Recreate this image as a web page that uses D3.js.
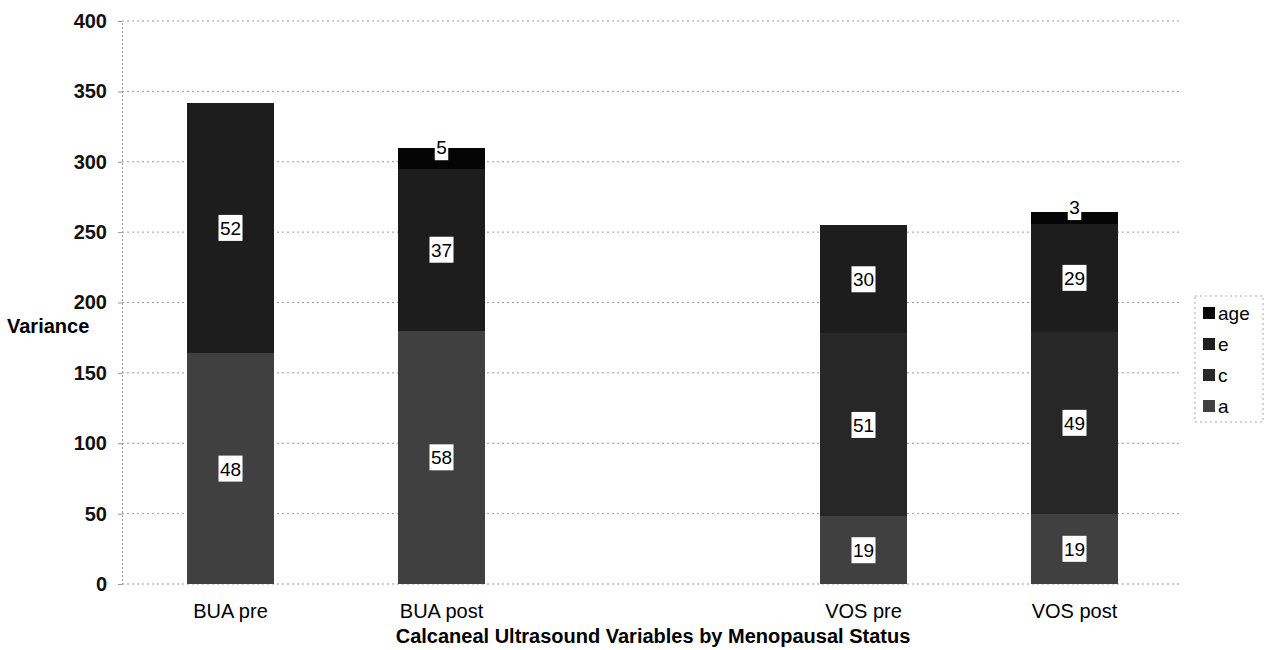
<!DOCTYPE html>
<html>
<head>
<meta charset="utf-8">
<script src="https://d3js.org/d3.v7.min.js"></script>
<style>
  body { margin: 0; background: #fff; }
  text { font-family: Arial, "Liberation Sans", sans-serif; }
</style>
</head>
<body>
<svg id="chart" width="1276" height="650"></svg>
<script>
// categories (the blank one is the empty slot between the two groups)
let categories = ['BUA pre', 'BUA post', '', 'VOS pre', 'VOS post']
let seriesNames = ['a', 'c', 'e', 'age']
// variance per component
let a_values = [164, 180, null, 48, 50]
let c_values = [0, 0, null, 130, 129]
let e_values = [178, 115, null, 77, 77]
let age_values = [0, 15, null, 0, 8]
// percentage labels printed on the segments
let a_labels = ['48', '58', '', '19', '19']
let c_labels = ['', '', '', '51', '49']
let e_labels = ['52', '37', '', '30', '29']
let age_labels = ['', '5', '', '', '3']
let yTicks = [0, 50, 100, 150, 200, 250, 300, 350, 400]

let colors = { a: '#404040', c: '#272727', e: '#1d1d1d', age: '#050505' }

let svg = d3.select('#chart')
let plotLeft = 125, plotRight = 1180, plotTop = 21, plotBottom = 584

let x = d3.scaleBand().domain(d3.range(categories.length)).range([plotLeft, plotRight]).paddingInner(0.588).paddingOuter(0.294)
let y = d3.scaleLinear().domain([0, 400]).range([plotBottom, plotTop])

// gridlines
svg.append('g').selectAll('line')
    .data(yTicks.filter(d => d > 0))
    .enter().append('line')
    .attr('x1', plotLeft - 3).attr('x2', plotRight)
    .attr('y1', d => y(d)).attr('y2', d => y(d))
    .attr('stroke', '#999').attr('stroke-width', 1)
    .attr('stroke-dasharray', '2,3')

// axes
let yAxis = svg.append('g')
    .attr('transform', 'translate(' + (plotLeft - 3) + ',0)')
    .call(d3.axisLeft(y).tickValues(yTicks).tickSize(4).tickPadding(11))
yAxis.select('.domain').attr('stroke', '#999').attr('stroke-dasharray', '2,2')
yAxis.selectAll('.tick line').attr('stroke', '#999')
yAxis.selectAll('.tick text').style('font-size', '20px').style('font-weight', 'bold').attr('fill', '#111')

svg.append('line')
    .attr('x1', plotLeft - 3).attr('x2', plotRight)
    .attr('y1', plotBottom).attr('y2', plotBottom)
    .attr('stroke', '#999').attr('stroke-dasharray', '2,3')

let xAxis = svg.append('g')
    .attr('transform', 'translate(0,' + plotBottom + ')')
    .call(d3.axisBottom(x).tickFormat(i => categories[i]).tickSize(0).tickPadding(20))
xAxis.select('.domain').remove()
xAxis.selectAll('.tick text').style('font-size', '20px').attr('fill', '#000')

// stacked bars
let rows = categories.map((c, i) => ({
    i: i,
    a: a_values[i] || 0, c: c_values[i] || 0, e: e_values[i] || 0, age: age_values[i] || 0
}))
let labels = { a: a_labels, c: c_labels, e: e_labels, age: age_labels }
let stacked = d3.stack().keys(seriesNames)(rows)

stacked.forEach(function(layer) {
    let g = svg.append('g').attr('class', 'series_' + layer.key)
    g.selectAll('rect')
        .data(layer.filter(d => d[1] - d[0] > 0))
        .enter().append('rect')
        .attr('x', d => x(d.data.i))
        .attr('width', x.bandwidth())
        .attr('y', d => y(d[1]))
        .attr('height', d => y(d[0]) - y(d[1]))
        .attr('fill', colors[layer.key])
        .attr('shape-rendering', 'crispEdges')
})

stacked.forEach(function(layer) {
    let g = svg.append('g').attr('class', 'labels_' + layer.key)
    layer.filter(d => labels[layer.key][d.data.i] !== '').forEach(function(d) {
        let txt = labels[layer.key][d.data.i]
        let cx = x(d.data.i) + x.bandwidth() / 2
        let cy = y((d[0] + d[1]) / 2)
        if (d[1] - d[0] < 20) cy -= 11
        let w = txt.length * 10.5 + 3
        g.append('rect')
            .attr('x', cx - w / 2).attr('y', cy - 13)
            .attr('width', w).attr('height', 26)
            .attr('fill', '#fff')
        g.append('text')
            .attr('x', cx).attr('y', cy + 7)
            .attr('text-anchor', 'middle')
            .style('font-size', '19px')
            .text(txt)
    })
})

// axis titles
svg.append('text')
    .attr('x', 7).attr('y', 333)
    .style('font-size', '20px').style('font-weight', 'bold')
    .text('Variance')

svg.append('text')
    .attr('x', 653).attr('y', 643)
    .attr('text-anchor', 'middle')
    .style('font-size', '20px').style('font-weight', 'bold')
    .text('Calcaneal Ultrasound Variables by Menopausal Status')

// legend
let legend = svg.append('g').attr('class', 'legend')
legend.append('rect')
    .attr('x', 1195).attr('y', 296).attr('width', 68).attr('height', 126)
    .attr('fill', 'none').attr('stroke', '#aaa').attr('stroke-dasharray', '2,3')
let legendOrder = seriesNames.slice().reverse()
legendOrder.forEach(function(k, i) {
    legend.append('rect')
        .attr('x', 1203).attr('y', 307 + i * 31)
        .attr('width', 12).attr('height', 12)
        .attr('fill', colors[k])
    legend.append('text')
        .attr('x', 1218).attr('y', 320 + i * 31)
        .style('font-size', '19px')
        .text(k)
})
</script>
</body>
</html>
